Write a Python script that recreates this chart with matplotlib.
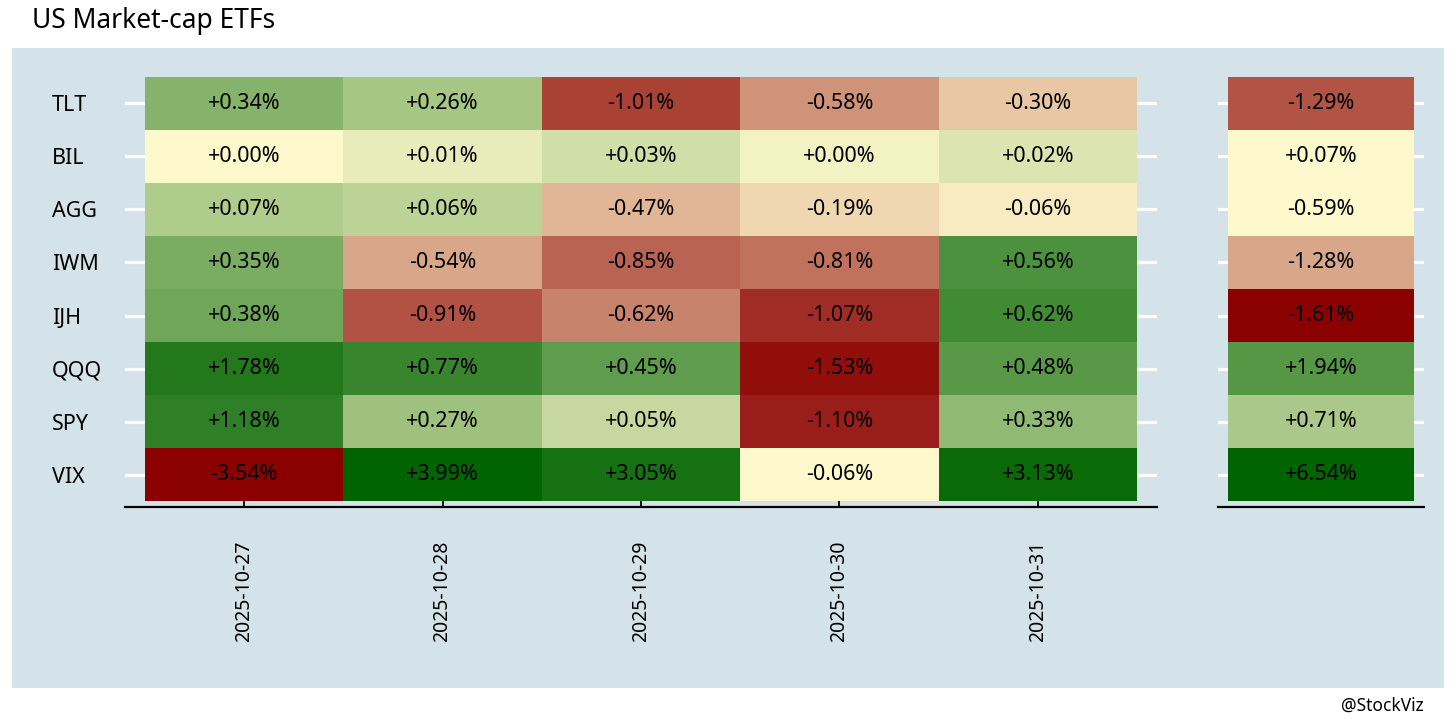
import numpy as np
import matplotlib
matplotlib.use("Agg")
import matplotlib.pyplot as plt
from matplotlib.colors import LinearSegmentedColormap
from matplotlib.patches import Rectangle

plt.rcParams['font.family'] = ['Noto Sans', 'DejaVu Sans']

tickers = ['TLT', 'BIL', 'AGG', 'IWM', 'IJH', 'QQQ', 'SPY', 'VIX']
dates = ['2025-10-27', '2025-10-28', '2025-10-29', '2025-10-30', '2025-10-31']

# daily returns (%) rows = tickers, cols = dates
daily_ret = [
    [0.34, 0.26, -1.01, -0.58, -0.30],
    [0.00, 0.01, 0.03, 0.00, 0.02],
    [0.07, 0.06, -0.47, -0.19, -0.06],
    [0.35, -0.54, -0.85, -0.81, 0.56],
    [0.38, -0.91, -0.62, -1.07, 0.62],
    [1.78, 0.77, 0.45, -1.53, 0.48],
    [1.18, 0.27, 0.05, -1.10, 0.33],
    [-3.54, 3.99, 3.05, -0.06, 3.13],
]
# colour score used for fill (-1 .. 1)
daily_score = [
    [0.47, 0.35, -0.74, -0.41, -0.20],
    [0.00, 0.09, 0.18, 0.05, 0.14],
    [0.31, 0.26, -0.27, -0.14, -0.06],
    [0.52, -0.33, -0.60, -0.54, 0.70],
    [0.56, -0.67, -0.47, -0.82, 0.74],
    [0.86, 0.78, 0.62, -0.94, 0.65],
    [0.82, 0.38, 0.22, -0.88, 0.43],
    [-1.00, 1.00, 0.91, 0.00, 0.96],
]
# period (cumulative) returns and their colour scores
total_ret = [-1.29, 0.07, -0.59, -1.28, -1.61, 1.94, 0.71, 6.54]
total_score = [-0.66, 0.00, 0.00, -0.33, -1.00, 0.66, 0.33, 1.00]

title = 'US Market-cap ETFs'
credit = '@StockViz'

cmap = LinearSegmentedColormap.from_list(
    'rg', ['#8b0000', '#fffacd', '#006400'])

W, H = 1456, 728
fig = plt.figure(figsize=(W / 100, H / 100), dpi=100)
fig.patch.set_facecolor('white')
bg = '#d4e3ea'
fig.patches.append(Rectangle((12 / W, 1 - 688 / H), (1444 - 12) / W, (688 - 48) / H,
                             transform=fig.transFigure, facecolor=bg,
                             edgecolor='none', zorder=-10))

fig.text(32 / W, 1 - 21 / H, title, fontsize=19, ha='left', va='center')
fig.text(1424 / W, 1 - 706 / H, credit, fontsize=12.5, ha='right', va='center')

bottom = 1 - 507 / H
height = (507 - 71) / H
ax = fig.add_axes([125 / W, bottom, (1157 - 125) / W, height])
ax2 = fig.add_axes([1218 / W, bottom, (1424 - 1218) / W, height])

nrow = len(tickers)
ncol = len(dates)
D = np.array(daily_score)
R = np.array(daily_ret)

ypad = 0.113
fs = 15.5

def style(a, xpad, n):
    a.set_facecolor('none')
    a.set_xlim(-0.5 - xpad, n - 0.5 + xpad)
    a.set_ylim(nrow - 0.5 + ypad, -0.5 - ypad)
    for s in ['top', 'right', 'left']:
        a.spines[s].set_visible(False)
    a.spines['bottom'].set_linewidth(1.6)
    a.spines['bottom'].set_color('black')
    a.set_axisbelow(True)
    a.set_yticks(range(nrow))
    a.yaxis.grid(True, color='white', linewidth=2.3)
    a.tick_params(axis='y', length=0)

style(ax, 0.1, ncol)
style(ax2, 0.053, 1)

ax.pcolormesh(np.arange(ncol + 1) - 0.5, np.arange(nrow + 1) - 0.5, D,
              cmap=cmap, vmin=-1, vmax=1, zorder=2)
for i in range(nrow):
    for j in range(ncol):
        ax.text(j, i, f'{R[i, j]:+.2f}%', ha='center', va='center',
                fontsize=fs, color='black', zorder=3)

ax.set_xticks(range(ncol))
ax.set_xticklabels(dates, rotation=90, fontsize=14, va='top')
ax.tick_params(axis='x', direction='in', length=7, width=1.3, color='black',
               pad=24)
for t in ax.xaxis.get_major_ticks():
    t.tick1line.set_zorder(5)
ax.set_yticklabels(tickers, fontsize=fs, ha='left')
ax.tick_params(axis='y', pad=52.5)

T = np.array(total_score).reshape(-1, 1)
ax2.pcolormesh([-0.5, 0.5], np.arange(nrow + 1) - 0.5, T,
               cmap=cmap, vmin=-1, vmax=1, zorder=2)
for i in range(nrow):
    ax2.text(0, i, f'{total_ret[i]:+.2f}%', ha='center', va='center',
             fontsize=fs, color='black', zorder=3)
ax2.set_xticks([])
ax2.set_yticklabels([])

fig.savefig('out.png', dpi=100, facecolor='white')
